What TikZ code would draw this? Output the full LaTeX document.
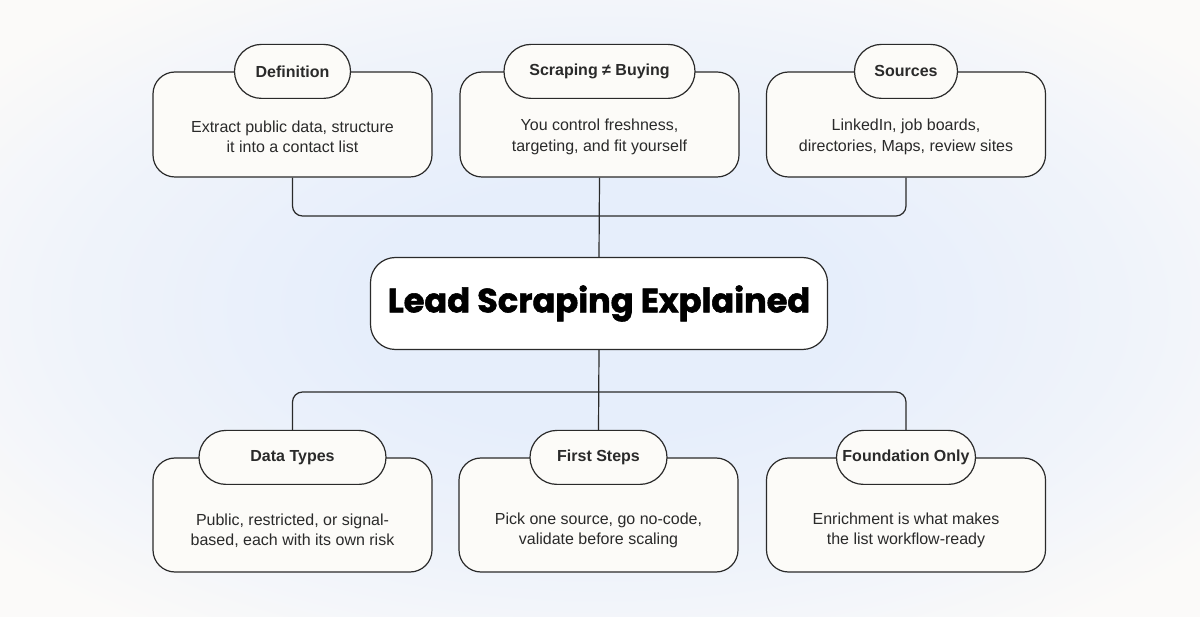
\documentclass[tikz,border=0pt]{standalone}
\usepackage{fontspec}
\setmainfont{Liberation Sans}
\newfontfamily\titlefont{Poppins}[BoldFeatures={FakeBold=1.6}]
\usetikzlibrary{positioning}
\definecolor{ink}{HTML}{2A2A2A}
\definecolor{cardfill}{HTML}{FCFBF8}
\definecolor{bgblue}{HTML}{E6EEFB}
\definecolor{bgwhite}{HTML}{FBFAF9}
\pgfdeclareradialshading{glow}{\pgfpoint{0bp}{0bp}}{color(0bp)=(bgblue); color(10bp)=(bgblue); color(22bp)=(bgblue!55!bgwhite); color(32bp)=(bgwhite); color(100bp)=(bgwhite)}
\tikzset{
  card/.style={draw=ink, line width=1.2pt, fill=cardfill, rounded corners=22pt, minimum width=279pt},
  body/.style={align=center, text=ink, font=\fontsize{16}{20.5}\selectfont},
  tab/.style={draw=ink, line width=1.2pt, fill=cardfill, rounded corners=27pt, minimum height=54pt, inner xsep=0pt, text=ink, font=\bfseries\fontsize{16}{20}\selectfont},
  hub/.style={draw=ink, line width=1.2pt, fill=white, rounded corners=25pt, minimum width=457pt, minimum height=92pt},
  wire/.style={draw=ink, line width=1.2pt, rounded corners=10pt},
}
\begin{document}
\begin{tikzpicture}[x=1pt,y=-1pt]
\useasboundingbox (0,0) rectangle (1200,617);
\shade[shading=glow] (0,0) rectangle (1200,617);

\node[hub] (hub) at (599,303.5) {};
\node[text=black, font=\titlefont\bfseries\fontsize{33.6}{38}\selectfont] (title) at (hub.center) {Lead Scraping Explained};

\node[card, minimum height=105pt] (def) at (292.5,124.5) {};
\node[card, minimum height=105pt] (scr) at (599.5,124.5) {};
\node[card, minimum height=105pt] (src) at (906,124.5) {};
\node[card, minimum height=114pt] (dat) at (292.5,515) {};
\node[card, minimum height=114pt] (fst) at (598.5,515) {};
\node[card, minimum height=114pt] (fnd) at (906,515) {};

\node[body] (deftext) at ([yshift=-12.5pt]def.center) {Extract public data, structure\\it into a contact list};
\node[body] (scrtext) at ([yshift=-12.5pt]scr.center) {You control freshness,\\targeting, and fit yourself};
\node[body] (srctext) at ([yshift=-12.5pt]src.center) {LinkedIn, job boards,\\directories, Maps, review sites};
\node[body] (dattext) at ([yshift=-15.5pt]dat.center) {Public, restricted, or signal-\\based, each with its own risk};
\node[body] (fsttext) at ([yshift=-15.5pt]fst.center) {Pick one source, go no-code,\\validate before scaling};
\node[body] (fndtext) at ([yshift=-15.5pt]fnd.center) {Enrichment is what makes\\the list workflow-ready};

\node[tab, minimum width=116pt] (deftab) at (def.north) {Definition};
\node[tab, minimum width=191pt] (scrtab) at (scr.north) {Scraping ≠ Buying};
\node[tab, minimum width=103pt] (srctab) at (src.north) {Sources};
\node[tab, minimum width=187pt] (dattab) at (dat.north) {Data Types};
\node[tab, minimum width=137pt] (fsttab) at (fst.north) {First Steps};
\node[tab, minimum width=139pt] (fndtab) at (fnd.north) {Foundation Only};

\coordinate (bustop) at (599,216);
\coordinate (busbot) at (599,392);
\draw[wire] (def.south) -- (def.south |- bustop) -| (src.south);
\draw[wire] (scr.south) -- (hub.north);
\draw[wire] (dattab.north) -- (dattab.north |- busbot) -| (fndtab.north);
\draw[wire] (hub.south) -- (fsttab.north);
\end{tikzpicture}
\end{document}
